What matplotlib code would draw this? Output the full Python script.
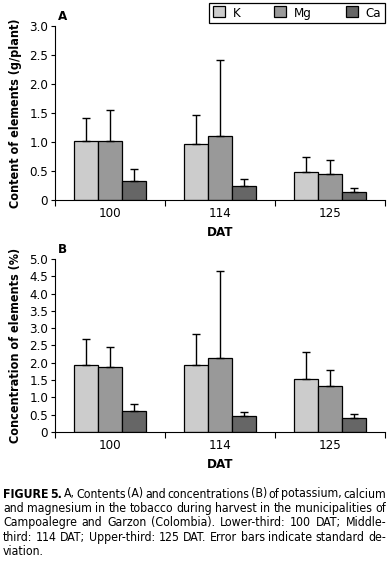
import numpy as np
import matplotlib
matplotlib.use("Agg")
import matplotlib.pyplot as plt

plt.rcParams['font.family'] = ['DejaVu Sans']
plt.rcParams['font.stretch'] = 'condensed'

days = ['100', '114', '125']
elements = ['K', 'Mg', 'Ca']
colors = ['#cccccc', '#999999', '#666666']

# panel A: content (g/plant)
content = [[1.02, 0.97, 0.49],
           [1.02, 1.11, 0.45],
           [0.33, 0.25, 0.14]]
content_sd = [[0.40, 0.50, 0.26],
              [0.54, 1.30, 0.24],
              [0.20, 0.12, 0.07]]

# panel B: concentration (%)
conc = [[1.94, 1.94, 1.53],
        [1.89, 2.14, 1.33],
        [0.61, 0.46, 0.40]]
conc_sd = [[0.75, 0.90, 0.78],
           [0.57, 2.51, 0.45],
           [0.20, 0.12, 0.12]]

caption = ["FIGURE 5. A, Contents (A) and concentrations (B) of potassium, calcium",
           "and magnesium in the tobacco during harvest in the municipalities of",
           "Campoalegre and Garzon (Colombia). Lower-third: 100 DAT; Middle-",
           "third: 114 DAT; Upper-third: 125 DAT. Error bars indicate standard de-",
           "viation."]

fig = plt.figure(figsize=(3.9, 5.66), dpi=100)
W, H = 390, 566
fs = 9.5


def panel(rect, vals, sds, ymax, ylabel, letter):
    ax = fig.add_axes(rect)
    x = np.arange(len(days))
    w = 0.22
    for i, el in enumerate(elements):
        pos = x + (i - 1) * w
        ax.bar(pos, vals[i], w, color=colors[i], edgecolor='black', linewidth=0.9, label=el, zorder=2)
        ax.errorbar(pos, vals[i], yerr=[np.zeros(3), sds[i]], fmt='none', ecolor='black',
                    elinewidth=1, capsize=3, capthick=1, zorder=3)
    ax.set_xlim(-0.5, 2.5)
    ax.set_ylim(0, ymax)
    ax.set_yticks(np.arange(0, ymax + 0.01, 0.5))
    ax.set_yticklabels(['0'] + ['%.1f' % v for v in np.arange(0.5, ymax + 0.01, 0.5)])
    ax.set_xticks([-0.5, 0.5, 1.5, 2.5])
    ax.set_xticklabels([])
    ax.set_xticks(x, minor=True)
    ax.set_xticklabels(days, minor=True)
    ax.tick_params(axis='x', which='major', direction='out', length=4, width=0.8)
    ax.tick_params(axis='x', which='minor', length=0, labelsize=fs, pad=5)
    ax.tick_params(axis='y', direction='out', length=3, width=0.8, labelsize=fs, pad=2)
    for s in ['top', 'right']:
        ax.spines[s].set_visible(False)
    ax.spines['left'].set_linewidth(0.8)
    ax.spines['bottom'].set_linewidth(0.8)
    ax.set_xlabel('DAT', fontweight='bold', fontsize=fs, labelpad=4)
    ax.set_ylabel(ylabel, fontweight='bold', fontsize=9, labelpad=5)
    ax.text(0.01, 1.02, letter, transform=ax.transAxes, fontweight='bold', fontsize=fs, va='bottom')
    return ax


axA = panel([55 / W, 1 - 200 / H, 330 / W, 174 / H], content, content_sd, 3.0,
            'Content of elements (g/plant)', 'A')
axB = panel([55 / W, 1 - 432 / H, 330 / W, 173 / H], conc, conc_sd, 5.0,
            'Concentration of elements (%)', 'B')

handles, labels = axA.get_legend_handles_labels()
leg = fig.legend(handles, labels, loc='center', ncol=3, mode='expand',
                 bbox_to_anchor=(209 / W, 1 - 23 / H, 176 / W, 20 / H),
                 frameon=True, fancybox=False, edgecolor='black', framealpha=1,
                 handlelength=0.9, handleheight=0.9, handletextpad=0.6, borderpad=0.3,
                 fontsize=fs, columnspacing=1.0, borderaxespad=0)
leg.get_frame().set_linewidth(0.9)

# justified caption, word by word
renderer = fig.canvas.get_renderer()
x0, x1 = 3, 386
cfs = 8.8
for k, line in enumerate(caption):
    y = 1 - (494 + 14.4 * k) / H
    words = line.split(' ')
    texts = []
    for j, wd in enumerate(words):
        bold = k == 0 and j < 2
        texts.append(fig.text(0, y, wd, fontsize=cfs, va='center',
                              fontweight='bold' if bold else 'normal'))
    widths = [t.get_window_extent(renderer).width for t in texts]
    last = k == len(caption) - 1
    gap = 3.0 if last else (x1 - x0 - sum(widths)) / (len(words) - 1)
    xp = x0
    for t, wdt in zip(texts, widths):
        t.set_x(xp / W)
        xp += wdt + gap

fig.savefig('out.png', dpi=100)
